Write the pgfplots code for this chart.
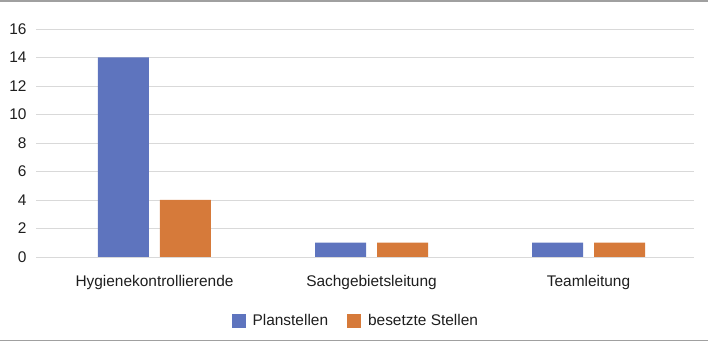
\documentclass[border=0pt]{standalone}
\usepackage{fontspec}
\setmainfont{Liberation Sans}
\usepackage{pgfplots}
\pgfplotsset{compat=1.18}
\definecolor{barblue}{RGB}{94,116,190}
\definecolor{barorange}{RGB}{214,122,58}
\definecolor{gridgray}{RGB}{217,217,217}
\definecolor{framegray}{RGB}{160,160,160}
\definecolor{txt}{RGB}{30,30,30}
\begin{document}
\begin{tikzpicture}
\path[use as bounding box] (0bp,0bp) rectangle (708bp,343bp);
\draw[framegray, line width=1.5bp] (0bp,342bp) -- (708bp,342bp);
\draw[framegray, line width=1.5bp] (0bp,2.5bp) -- (708bp,2.5bp);
\begin{axis}[
  at={(36bp,86bp)}, anchor=south west,
  scale only axis, width=658bp, height=228bp,
  ybar=11bp, bar width=51bp,
  xmin=-0.546, xmax=2.486, ymin=0, ymax=16,
  enlargelimits=false,
  ytick={0,2,...,16},
  xtick={0,1,2},
  xticklabels={Hygienekontrollierende,Sachgebietsleitung,Teamleitung},
  axis line style={draw=none},
  major tick length=0pt,
  ymajorgrids, grid style={gridgray, line width=0.8bp},
  /pgf/number format/assume math mode=true,
  tick label style={font=\fontsize{15.5}{18}\selectfont, text=txt},
  yticklabel style={anchor=east, xshift=-6bp},
  xticklabel style={anchor=base, yshift=-29bp},
  legend style={at={(0.486,-0.281)}, anchor=center, draw=none,
    font=\fontsize{15.5}{18}\selectfont, text=txt,
    /tikz/every even column/.append style={column sep=17bp}},
  legend columns=2,
  legend image code/.code={\fill[#1] (0bp,-7bp) rectangle (14bp,7bp); \path (19bp,0bp);},
]
\addplot[fill=barblue, draw=none] coordinates {(0,14) (1,1) (2,1)};
\addplot[fill=barorange, draw=none] coordinates {(0,4) (1,1) (2,1)};
\legend{Planstellen,besetzte Stellen}
\end{axis}
\end{tikzpicture}
\end{document}
